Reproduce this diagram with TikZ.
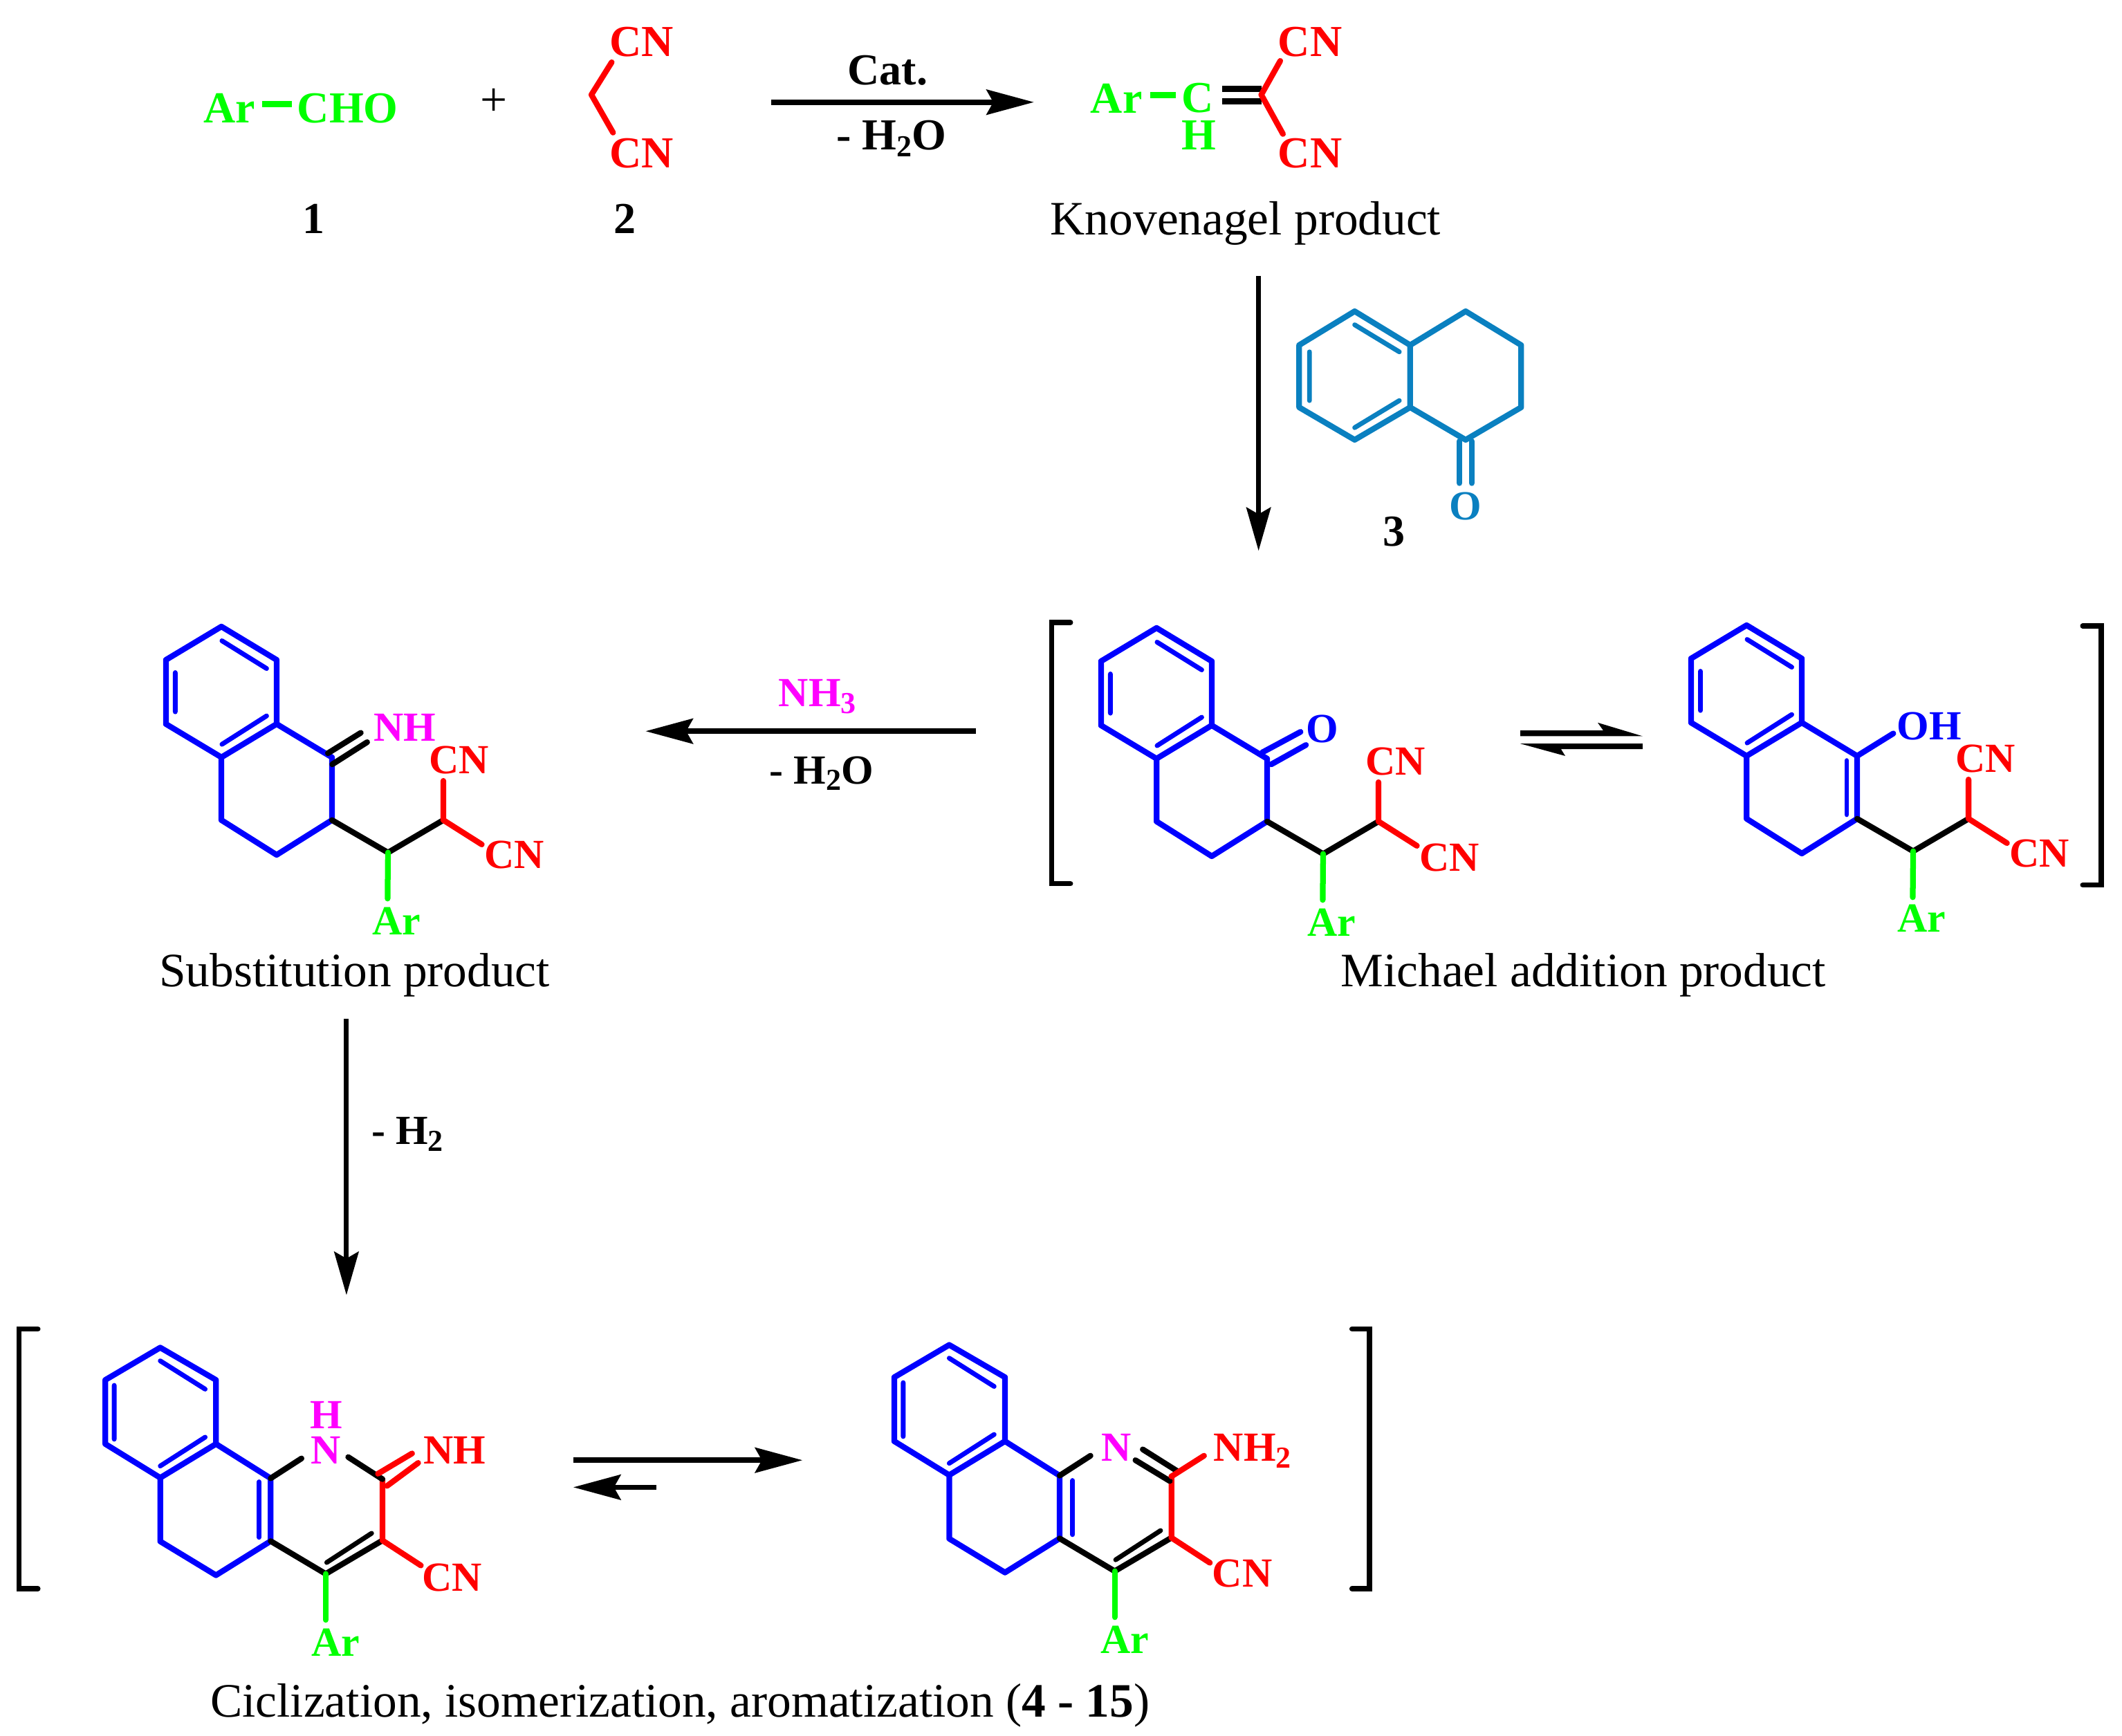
\documentclass[tikz,border=0pt]{standalone}
\usepackage{fontspec}
\setmainfont{Liberation Serif}
\usetikzlibrary{arrows.meta}
\definecolor{ngreen}{RGB}{0,255,0}
\definecolor{nmag}{RGB}{255,0,255}
\definecolor{tetral}{RGB}{10,128,192}
\newcommand\sbs[1]{\raisebox{-0.35ex}{\fontsize{6.4}{7}\selectfont #1}}
\tikzset{
  bond/.style={line width=1.2pt,line cap=round,line join=round},
  inner/.style={line width=1pt,line cap=round},
  atom/.style={inner sep=0pt,text height=6.1pt,text depth=0pt,font=\fontsize{9.3}{10}\selectfont\bfseries},
  satom/.style={atom,font=\fontsize{8.7}{10}\selectfont\bfseries},
  caption/.style={inner sep=0pt,font=\fontsize{10.08}{11}\selectfont},
  bbl/.style={line width=1.1pt,line cap=round,line join=miter},
  rxn/.style={line width=1.1pt,-{Stealth[length=3.5mm,width=1.85mm,inset=.5mm]}},
  rxnv/.style={line width=1pt,-{Stealth[length=3.2mm,width=1.8mm,inset=.5mm]}},
}
% tetralone skeleton with the side chain, in the proportions of the Michael product
\newcommand\skelA[3]{%
  \begin{scope}[shift={(#2,#3)}]
    \coordinate (#1a) at (854.6,464);
    \coordinate (#1b) at (895.4,488.6);
    \coordinate (#1c) at (895.4,536);
    \coordinate (#1d) at (854.6,560.6);
    \coordinate (#1e) at (813.6,536);
    \coordinate (#1f) at (813.6,488.6);
    \coordinate (#1g) at (936.3,560.6);
    \coordinate (#1h) at (936.3,607);
    \coordinate (#1i) at (895.4,632.7);
    \coordinate (#1j) at (854.6,607);
    \coordinate (#1k) at (977.7,631);
    \coordinate (#1l) at (1018.6,607);
    \coordinate (#1m) at (1018.6,578);
    \coordinate (#1n) at (1047,625);
    \coordinate (#1o) at (977.4,665);
    \draw[bond,blue] (#1a)--(#1b)--(#1c)--(#1d)--(#1e)--(#1f)--cycle;
    \draw[bond,blue] (#1c)--(#1g)--(#1h)--(#1i)--(#1j)--(#1d);
    \coordinate (#1p) at (855,474.5);
    \coordinate (#1q) at (888,495);
    \coordinate (#1r) at (820.5,498);
    \coordinate (#1s) at (820.5,527);
    \coordinate (#1t) at (855,551);
    \coordinate (#1u) at (888,530);
    \draw[inner,blue] (#1p)--(#1q) (#1r)--(#1s) (#1t)--(#1u);
    \draw[bond] (#1h)--(#1k)--(#1l);
    \draw[bond,red] (#1l)--(#1m) (#1l)--(#1n);
    \draw[bond,ngreen] (#1k)--(#1o);
  \end{scope}}
% narrower skeleton of the fused pyridine products
\newcommand\skelB[3]{%
  \begin{scope}[shift={(#2,#3)}]
    \coordinate (#1a) at (118.4,995.8);
    \coordinate (#1b) at (159.6,1019.7);
    \coordinate (#1c) at (159.6,1067);
    \coordinate (#1d) at (118.4,1092);
    \coordinate (#1e) at (77.8,1067);
    \coordinate (#1f) at (77.8,1019.7);
    \coordinate (#1g) at (200,1092.4);
    \coordinate (#1h) at (200,1138.8);
    \coordinate (#1i) at (159.6,1164);
    \coordinate (#1j) at (118.4,1139);
    \coordinate (#1k) at (240.7,1163);
    \coordinate (#1l) at (282.6,1138.3);
    \coordinate (#1m) at (282.6,1093);
    \coordinate (#1n) at (311,1156.8);
    \coordinate (#1o) at (240.7,1197);
    \coordinate (#1v) at (222.8,1077.7);
    \draw[bond,blue] (#1a)--(#1b)--(#1c)--(#1d)--(#1e)--(#1f)--cycle;
    \draw[bond,blue] (#1c)--(#1g)--(#1h)--(#1i)--(#1j)--(#1d);
    \coordinate (#1p) at (118.4,1005.6);
    \coordinate (#1q) at (151.6,1026.5);
    \coordinate (#1r) at (84.4,1023.7);
    \coordinate (#1s) at (84.4,1063.5);
    \coordinate (#1t) at (118.4,1083.3);
    \coordinate (#1u) at (151.6,1062);
    \draw[inner,blue] (#1p)--(#1q) (#1r)--(#1s) (#1t)--(#1u);
    \coordinate (#1w) at (241.4,1154.6);
    \coordinate (#1x) at (274.6,1133);
    \draw[bond] (#1h)--(#1k)--(#1l);
    \draw[inner] (#1w)--(#1x);
    \draw[bond] (#1g)--(#1v);
    \draw[bond,red] (#1l)--(#1m) (#1l)--(#1n);
    \draw[bond,ngreen] (#1k)--(#1o);
  \end{scope}}
\begin{document}
\begin{tikzpicture}[x=0.01cm,y=-0.01cm]
\useasboundingbox (0,0) rectangle (1568,1282.8);

% ---- top row
\node[atom,text=ngreen] (ar1) at (169.5,80) {Ar};
\node[atom,text=ngreen] (cho) at (257,80) {CHO};
\coordinate (ar1e) at (193.7,77);
\coordinate (cho1w) at (215.7,77);
\draw[line width=1.3pt,ngreen] (ar1e)--(cho1w);
\node[caption] (plus) at (365,75.5) {+};
\node[atom,text=red] (cnA) at (474,31) {CN};
\node[atom,text=red] (cnB) at (474,113) {CN};
\coordinate (ch2) at (437,70);
\coordinate (ch2a) at (452,46);
\coordinate (ch2b) at (453,98);
\draw[bond,red] (ch2a)--(ch2)--(ch2b);
\node[atom] (one) at (232,162) {1};
\node[atom] (two) at (462,162) {2};
\coordinate (r1s) at (570,75.5);
\coordinate (r1e) at (764,75.5);
\draw[rxn] (r1s)--(r1e);
\node[atom] (cat) at (656,52) {Cat.};
\node[atom] (mw1) at (658.5,100) {- H\sbs{2}O};

\node[atom,text=ngreen] (ar2) at (825,73) {Ar};
\node[atom,text=ngreen] (c2) at (885,72.5) {C};
\node[atom,text=ngreen] (h2) at (886,100) {H};
\coordinate (ar2e) at (850,70.5);
\coordinate (c2w) at (869,70.5);
\draw[line width=1.3pt,ngreen] (ar2e)--(c2w);
\coordinate (cv) at (932,70);
\coordinate (cva) at (946,45);
\coordinate (cvb) at (948,99);
\coordinate (d1a) at (903,65.6);
\coordinate (d1b) at (932,65.6);
\coordinate (d2a) at (903,75);
\coordinate (d2b) at (932,75);
\draw[line width=1.25pt] (d1a)--(d1b) (d2a)--(d2b);
\draw[bond,red] (cva)--(cv)--(cvb);
\node[atom,text=red] (cnC) at (968,31) {CN};
\node[atom,text=red] (cnD) at (968,113) {CN};
\node[caption] (knov) at (920.5,165) {Knovenagel product};

\coordinate (r2s) at (930,204);
\coordinate (r2e) at (930,407);
\draw[rxnv] (r2s)--(r2e);

% ---- tetralone 3
\coordinate (t1) at (1001,230);
\coordinate (t2) at (1042,255);
\coordinate (t3) at (1042,301);
\coordinate (t4) at (1001,325);
\coordinate (t5) at (960,301);
\coordinate (t6) at (960,255);
\coordinate (t7) at (1083,230);
\coordinate (t8) at (1124,255);
\coordinate (t9) at (1124,301);
\coordinate (t10) at (1083,325);
\draw[bond,tetral] (t1)--(t2)--(t3)--(t4)--(t5)--(t6)--cycle;
\draw[bond,tetral] (t2)--(t7)--(t8)--(t9)--(t10)--(t3);
\coordinate (ti1) at (1001,240);
\coordinate (ti2) at (1034,260);
\coordinate (ti3) at (967.6,260);
\coordinate (ti4) at (967.6,296);
\coordinate (ti5) at (1001,316);
\coordinate (ti6) at (1034,296);
\draw[inner,tetral] (ti1)--(ti2) (ti3)--(ti4) (ti5)--(ti6);
\coordinate (to1) at (1078.5,326);
\coordinate (to2) at (1078.5,357);
\coordinate (to3) at (1087.5,326);
\coordinate (to4) at (1087.5,357);
\draw[bond,tetral] (to1)--(to2) (to3)--(to4);
\node[satom,text=tetral] (oT) at (1083,373.5) {O};
\node[atom] (three) at (1030,393) {3};

% ---- Michael bracket
\coordinate (b1a) at (791,460);
\coordinate (b1b) at (777,460);
\coordinate (b1c) at (777,653);
\coordinate (b1d) at (791,653);
\draw[bbl] (b1a)--(b1b)--(b1c)--(b1d);
\coordinate (b2a) at (1539,462.5);
\coordinate (b2b) at (1552.7,462.5);
\coordinate (b2c) at (1552.7,654);
\coordinate (b2d) at (1539,654);
\draw[bbl] (b2a)--(b2b)--(b2c)--(b2d);

\skelA{ma}{0}{0}
\coordinate (mo1) at (932.7,556);
\coordinate (mo2) at (961,540.8);
\coordinate (mo3) at (939.4,564.8);
\coordinate (mo4) at (965,550.5);
\draw[bond,blue] (mo1)--(mo2) (mo3)--(mo4);
\node[satom,text=blue] (oM) at (977,538) {O};
\node[satom,text=red] (cnE) at (1031,562) {CN};
\node[satom,text=red] (cnF) at (1071,633) {CN};
\node[satom,text=ngreen] (arE) at (984,681) {Ar};

\skelA{mb}{436}{-2}
\coordinate (mbo) at (1399,542);
\draw[bond,blue] (mbg)--(mbo);
\coordinate (mbi1) at (1364.6,562);
\coordinate (mbi2) at (1364.6,602);
\draw[inner,blue] (mbi1)--(mbi2);
\node[satom,text=blue] (oh) at (1425.5,536) {OH};
\node[satom,text=red] (cnG) at (1467,560) {CN};
\node[satom,text=red] (cnH) at (1507,630) {CN};
\node[satom,text=ngreen] (arF) at (1420,678) {Ar};
\node[caption] (mich) at (1170,720.5) {Michael addition product};

% equilibrium harpoons
\fill (1123.4,539.8) -- (1184.7,539.8) -- (1180.6,534) -- (1213.8,544) -- (1123.4,544) -- cycle;
\fill (1213.8,549.5) -- (1123.4,549.5) -- (1156.6,558.6) -- (1153.5,553.6) -- (1213.8,553.6) -- cycle;

% ---- substitution product
\skelA{sp}{-691}{-1}
\coordinate (sn1) at (242.3,556.6);
\coordinate (sn2) at (266.6,541.5);
\coordinate (sn3) at (245.5,564.8);
\coordinate (sn4) at (271.3,548.4);
\draw[bond] (sn1)--(sn2) (sn3)--(sn4);
\node[satom,text=nmag] (nhS) at (299,537) {NH};
\node[satom,text=red] (cnI) at (339,561) {CN};
\node[satom,text=red] (cnJ) at (380,631) {CN};
\node[satom,text=ngreen] (arG) at (293,680) {Ar};
\node[caption] (subst) at (262,720.5) {Substitution product};

\coordinate (r3s) at (721,540.3);
\coordinate (r3e) at (477,540.3);
\draw[rxn] (r3s)--(r3e);
\node[satom,text=nmag] (nh3) at (604,511.5) {NH\sbs{3}};
\node[satom] (mw2) at (607,568.4) {- H\sbs{2}O};

\coordinate (r4s) at (256,753);
\coordinate (r4e) at (256,957);
\draw[rxnv] (r4s)--(r4e);
\node[satom] (mh2) at (301,835) {- H\sbs{2}};

% ---- bottom brackets
\coordinate (b3a) at (28,982);
\coordinate (b3b) at (14,982);
\coordinate (b3c) at (14,1174);
\coordinate (b3d) at (28,1174);
\draw[bbl] (b3a)--(b3b)--(b3c)--(b3d);
\coordinate (b4a) at (999,982);
\coordinate (b4b) at (1012,982);
\coordinate (b4c) at (1012,1174);
\coordinate (b4d) at (999,1174);
\draw[bbl] (b4a)--(b4b)--(b4c)--(b4d);

% ---- left bottom structure
\skelB{pa}{0}{0}
\coordinate (pan) at (257.3,1076.7);
\draw[bond] (pan)--(pam);
\coordinate (pai1) at (191.5,1095);
\coordinate (pai2) at (191.5,1136);
\draw[inner,blue] (pai1)--(pai2);
\coordinate (pad1) at (279.3,1089);
\coordinate (pad2) at (304.5,1074);
\coordinate (pad3) at (286,1098);
\coordinate (pad4) at (309,1081);
\draw[bond,red] (pad1)--(pad2) (pad3)--(pad4);
\node[satom,text=nmag] (hP) at (241,1045) {H};
\node[satom,text=nmag] (nP) at (241,1071) {N};
\node[satom,text=red] (nhP) at (336,1071) {NH};
\node[satom,text=red] (cnK) at (334,1165) {CN};
\node[satom,text=ngreen] (arH) at (248,1213) {Ar};

% ---- right bottom structure
\skelB{pb}{583}{-2}
\coordinate (pbi1) at (792.6,1094);
\coordinate (pbi2) at (792.6,1134);
\draw[inner,blue] (pbi1)--(pbi2);
\coordinate (pbd1) at (844.4,1071);
\coordinate (pbd2) at (869.8,1087);
\coordinate (pbd3) at (839,1079);
\coordinate (pbd4) at (864.4,1094.4);
\draw[bond] (pbd1)--(pbd2) (pbd3)--(pbd4);
\coordinate (pbh) at (889.7,1075.7);
\draw[bond,red] (pbm)--(pbh);
\node[satom,text=nmag] (nQ) at (825,1069) {N};
\node[satom,text=red] (nh2Q) at (925.5,1069) {NH\sbs{2}};
\node[satom,text=red] (cnL) at (918,1162) {CN};
\node[satom,text=ngreen] (arI) at (831,1211) {Ar};

\coordinate (r5s) at (423.6,1079);
\coordinate (r5e) at (593,1079);
\draw[rxn] (r5s)--(r5e);
\coordinate (r6s) at (485,1099);
\coordinate (r6e) at (423.6,1099);
\draw[rxn] (r6s)--(r6e);

\node[caption] (cycl) at (502.5,1260) {Ciclization, isomerization, aromatization (\textbf{4 - 15})};
\end{tikzpicture}
\end{document}
